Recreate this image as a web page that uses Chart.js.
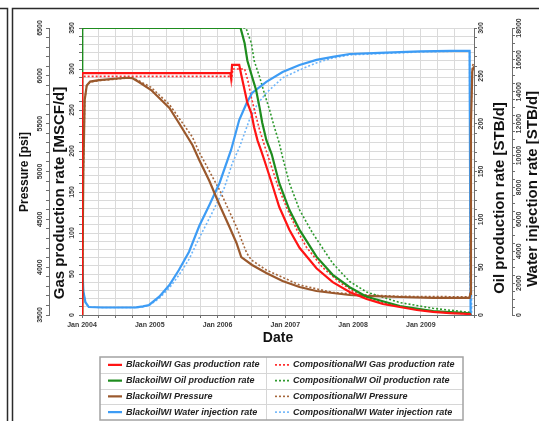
<!DOCTYPE html>
<html>
<head>
<meta charset="utf-8">
<script src="https://cdn.jsdelivr.net/npm/chart.js@4.4.1/dist/chart.umd.min.js"></script>
<style>
  html, body { margin: 0; padding: 0; background: #fff; }
  canvas { display: block; }
</style>
</head>
<body>
<canvas id="chart" width="539" height="421"></canvas>
<script>
// Time is kept in decimal years; each row is [year, value].
const yearTicks = [2004, 2005, 2006, 2007, 2008, 2009];

// Gas production rate [MSCF/d]
const gasBlackoil = [
  [2004.000, 0], [2004.004, 295], [2006.19, 295], [2006.20, 289], [2006.215, 305], [2006.32, 305],
  [2006.35, 293], [2006.40, 274], [2006.44, 259], [2006.50, 246], [2006.54, 229], [2006.59, 213],
  [2006.65, 199], [2006.69, 189], [2006.80, 161], [2006.91, 132], [2007.06, 104], [2007.21, 82],
  [2007.46, 57], [2007.70, 40], [2007.95, 28], [2008.20, 19.5], [2008.44, 13.4], [2008.69, 9.8],
  [2008.94, 6.1], [2009.18, 3.7], [2009.43, 2.4], [2009.72, 1.2], [2009.74, 0]
];
const gasCompositional = [
  [2004.000, 0], [2004.004, 291], [2006.20, 291], [2006.21, 288], [2006.225, 300], [2006.40, 300],
  [2006.45, 285], [2006.50, 265], [2006.56, 245], [2006.62, 226], [2006.70, 205], [2006.80, 180],
  [2006.90, 155], [2007.02, 131], [2007.17, 104], [2007.31, 83], [2007.55, 58], [2007.80, 40],
  [2008.00, 29], [2008.25, 20], [2008.50, 13.5], [2008.75, 9.5], [2009.00, 6], [2009.25, 3.8],
  [2009.50, 2.3], [2009.72, 1.3], [2009.74, 0]
];

// Oil production rate [STB/d]
const oilBlackoil = [
  [2004.000, 0], [2004.004, 300], [2006.34, 300], [2006.40, 284], [2006.44, 266], [2006.51, 249],
  [2006.57, 235], [2006.62, 217], [2006.66, 201], [2006.72, 183], [2006.80, 168], [2006.91, 138],
  [2007.06, 110], [2007.21, 89], [2007.46, 61], [2007.70, 42], [2007.95, 29], [2008.20, 19],
  [2008.69, 9.4], [2009.18, 4.2], [2009.68, 2.1], [2009.72, 1.8], [2009.74, 0]
];
const oilCompositional = [
  [2004.000, 0], [2004.004, 300], [2006.42, 300], [2006.50, 284], [2006.54, 266], [2006.62, 249],
  [2006.69, 232], [2006.77, 214], [2006.84, 196], [2006.91, 180], [2006.96, 165], [2007.06, 138],
  [2007.21, 110], [2007.40, 86], [2007.70, 54], [2007.95, 35], [2008.20, 24], [2008.69, 13],
  [2009.18, 7], [2009.68, 3.1], [2009.72, 2.8], [2009.74, 0]
];

// Average pressure [psi]
const pressureBlackoil = [
  [2004.000, 3500], [2004.02, 5000], [2004.04, 5750], [2004.07, 5900], [2004.12, 5940], [2004.25, 5956],
  [2004.65, 5980], [2004.74, 5977], [2004.84, 5935], [2005.02, 5852], [2005.14, 5768], [2005.29, 5664],
  [2005.43, 5507], [2005.63, 5277], [2005.73, 5120], [2005.88, 4900], [2006.03, 4650], [2006.17, 4430],
  [2006.28, 4253], [2006.35, 4106], [2006.51, 4023], [2006.72, 3939], [2006.96, 3855], [2007.21, 3793],
  [2007.46, 3751], [2007.70, 3730], [2007.95, 3709], [2008.20, 3699], [2008.69, 3688], [2009.18, 3678],
  [2009.72, 3678], [2009.73, 3720], [2009.74, 5500], [2009.76, 6050], [2009.785, 6100]
];
const pressureCompositional = [
  [2004.000, 3500], [2004.02, 5000], [2004.04, 5750], [2004.07, 5900], [2004.12, 5935], [2004.25, 5950],
  [2004.65, 5975], [2004.76, 5975], [2004.86, 5940], [2005.02, 5880], [2005.14, 5800], [2005.29, 5700],
  [2005.43, 5560], [2005.63, 5360], [2005.73, 5200], [2006.03, 4807], [2006.28, 4420], [2006.43, 4148],
  [2006.50, 4075], [2006.72, 3970], [2007.21, 3814], [2007.70, 3735], [2008.20, 3709], [2008.69, 3695],
  [2009.72, 3690], [2009.73, 3720], [2009.74, 5600], [2009.76, 6100], [2009.785, 6140]
];

// Water injection rate [STB/d]
const waterBlackoil = [
  [2004.000, 3640], [2004.02, 1500], [2004.05, 800], [2004.10, 500], [2004.30, 470], [2004.80, 480],
  [2004.90, 540], [2004.99, 630], [2005.14, 1150], [2005.29, 1880], [2005.43, 2820], [2005.58, 3970],
  [2005.73, 5580], [2005.88, 6900], [2006.03, 8280], [2006.20, 10350], [2006.32, 12230], [2006.43, 13300],
  [2006.51, 13930], [2006.72, 14620], [2006.96, 15240], [2007.21, 15680], [2007.46, 16000], [2007.70, 16190],
  [2007.95, 16370], [2008.39, 16440], [2008.99, 16530], [2009.43, 16560], [2009.72, 16560], [2009.735, 0]
];
const waterCompositional = [
  [2004.000, 3640], [2004.02, 1500], [2004.05, 800], [2004.10, 500], [2004.30, 470], [2004.80, 470],
  [2004.90, 510], [2004.99, 600], [2005.14, 1050], [2005.29, 1700], [2005.43, 2500], [2005.58, 3500],
  [2005.73, 4830], [2005.92, 6400], [2006.10, 7970], [2006.22, 9540], [2006.32, 10480], [2006.47, 12230],
  [2006.59, 13240], [2006.72, 13930], [2006.96, 14870], [2007.21, 15370], [2007.46, 15810], [2007.70, 16120],
  [2007.95, 16310], [2008.99, 16500], [2009.72, 16560], [2009.73, 3000], [2009.745, 3000], [2009.75, 0]
];

const FONT = "'Liberation Sans', Arial, sans-serif";
const TICK_FONT = { family: FONT, size: 7, weight: 'bold' };
const TICK_COLOR = '#3a3a3a';
const AXIS_COLOR = '#6e6e6e';
const GRID_COLOR = '#dadada';

const toXY = rows => rows.map(([x, y]) => ({ x, y }));
function series(label, rows, axis, color, dotted) {
  return {
    label, data: toXY(rows), yAxisID: axis,
    borderColor: color, backgroundColor: color,
    borderWidth: dotted ? 1.6 : 2.2,
    borderDash: dotted ? [2, 2] : [],
    pointRadius: 0, tension: 0, fill: false,
    order: dotted ? 2 : 1
  };
}

const datasets = [
  series('BlackoilWI Gas production rate', gasBlackoil, 'yGas', '#ff1414', false),
  series('CompositionalWI Gas production rate', gasCompositional, 'yGas', '#ff3030', true),
  series('BlackoilWI Oil production rate', oilBlackoil, 'yOil', '#1e8c1e', false),
  series('CompositionalWI Oil production rate', oilCompositional, 'yOil', '#2f9a2f', true),
  series('BlackoilWI Pressure', pressureBlackoil, 'yPres', '#9a582c', false),
  series('CompositionalWI Pressure', pressureCompositional, 'yPres', '#a4653a', true),
  series('BlackoilWI Water injection rate', waterBlackoil, 'yWater', '#3d9cf5', false),
  series('CompositionalWI Water injection rate', waterCompositional, 'yWater', '#6fb6fa', true)
];

function yAxis(position, weight, min, max, step, labelEvery, padding, width, onArea) {
  return {
    type: 'linear', position, weight, min, max,
    ticks: {
      stepSize: step, autoSkip: false, minRotation: 90, maxRotation: 90,
      crossAlign: 'center', padding, font: TICK_FONT, color: TICK_COLOR,
      callback: v => (Math.abs(v % labelEvery) < 1e-9 ? String(v) : '')
    },
    grid: { drawOnChartArea: onArea, color: GRID_COLOR, tickLength: 3, tickColor: AXIS_COLOR },
    border: { display: true, color: AXIS_COLOR, width: 1 },
    title: { display: false },
    afterFit(scale) { scale.width = width; }
  };
}

function drawVerticalText(ctx, text, x, y, size) {
  ctx.save();
  ctx.translate(x, y);
  ctx.rotate(-Math.PI / 2);
  ctx.font = `bold ${size}px ${FONT}`;
  ctx.fillStyle = '#111';
  ctx.textAlign = 'center';
  ctx.textBaseline = 'middle';
  ctx.fillText(text, 0, 0);
  ctx.restore();
}

// Panel frame, rotated axis titles and the two-column legend table
const decorations = {
  id: 'decorations',
  afterDraw(chart) {
    const { ctx, chartArea: area, scales: s } = chart;
    ctx.save();

    ctx.strokeStyle = '#2b2b2b';
    ctx.lineWidth = 1.5;
    ctx.beginPath();
    ctx.moveTo(0, 8.5); ctx.lineTo(7.5, 8.5); ctx.lineTo(7.5, 421);
    ctx.moveTo(12.5, 421); ctx.lineTo(12.5, 8.5); ctx.lineTo(539, 8.5);
    ctx.stroke();

    drawVerticalText(ctx, 'Pressure [psi]', s.yPres.left + 11, area.top + 144, 12);
    drawVerticalText(ctx, 'Gas production rate [MSCF/d]', s.yGas.left + 11, area.top + 165, 15);
    drawVerticalText(ctx, 'Oil production rate [STB/d]', s.yOil.left + 26, area.top + 170, 15);
    drawVerticalText(ctx, 'Water injection rate [STB/d]', s.yWater.left + 20.5, area.top + 161, 15);

    const box = { left: 100, top: 357, right: 463, bottom: 420, split: 266 };
    const rowH = (box.bottom - box.top) / 4;
    ctx.fillStyle = '#fff';
    ctx.fillRect(box.left, box.top, box.right - box.left, box.bottom - box.top);
    ctx.strokeStyle = '#d6d6d6';
    ctx.lineWidth = 1;
    ctx.beginPath();
    for (let r = 1; r < 4; r++) {
      const y = Math.round(box.top + r * rowH) + 0.5;
      ctx.moveTo(box.left, y); ctx.lineTo(box.right, y);
    }
    ctx.moveTo(box.split + 0.5, box.top); ctx.lineTo(box.split + 0.5, box.bottom);
    ctx.stroke();
    ctx.strokeStyle = '#a3a3a3';
    ctx.lineWidth = 1.5;
    ctx.strokeRect(box.left, box.top, box.right - box.left, box.bottom - box.top);

    ctx.font = `italic bold 9px ${FONT}`;
    ctx.textBaseline = 'middle';
    ctx.textAlign = 'left';
    chart.data.datasets.forEach((ds, i) => {
      const row = Math.floor(i / 2), col = i % 2;
      const cy = box.top + rowH * (row + 0.5);
      const x0 = col === 0 ? 108 : 275;
      ctx.save();
      ctx.strokeStyle = ds.borderColor;
      ctx.lineWidth = ds.borderWidth;
      ctx.setLineDash(ds.borderDash);
      ctx.beginPath();
      ctx.moveTo(x0, cy); ctx.lineTo(x0 + 14, cy);
      ctx.stroke();
      ctx.restore();
      ctx.fillStyle = '#222';
      ctx.fillText(ds.label, x0 + 18, cy);
    });

    ctx.restore();
  }
};

new Chart(document.getElementById('chart'), {
  type: 'line',
  data: { datasets },
  options: {
    responsive: false,
    animation: false,
    devicePixelRatio: 1,
    layout: { padding: { left: 14, right: 0, top: 28, bottom: 74 } },
    plugins: { legend: { display: false }, tooltip: { enabled: false } },
    scales: {
      x: {
        type: 'linear', position: 'bottom', min: 2004, max: 2009.785,
        ticks: {
          stepSize: 0.25, autoSkip: false, minRotation: 0, maxRotation: 0, padding: 3,
          font: TICK_FONT, color: TICK_COLOR,
          callback: v => (yearTicks.includes(v) ? 'Jan ' + v : '')
        },
        grid: { color: GRID_COLOR, tickLength: 3, tickColor: AXIS_COLOR },
        border: { display: true, color: AXIS_COLOR, width: 1 },
        title: { display: true, text: 'Date', color: '#111', padding: 0,
                 font: { family: FONT, size: 14, weight: 'bold' } },
        afterFit(scale) { scale.height = 32; }
      },
      yPres: yAxis('left', 2, 3500, 6500, 100, 500, -1.8, 35, false),
      yGas: yAxis('left', 1, 0, 350, 10, 50, 1.2, 33, true),
      yOil: yAxis('right', 1, 0, 300, 10, 50, -1.8, 38, false),
      yWater: yAxis('right', 2, 0, 18000, 500, 2000, -5.7, 27, false)
    }
  },
  plugins: [decorations]
});
</script>
</body>
</html>
